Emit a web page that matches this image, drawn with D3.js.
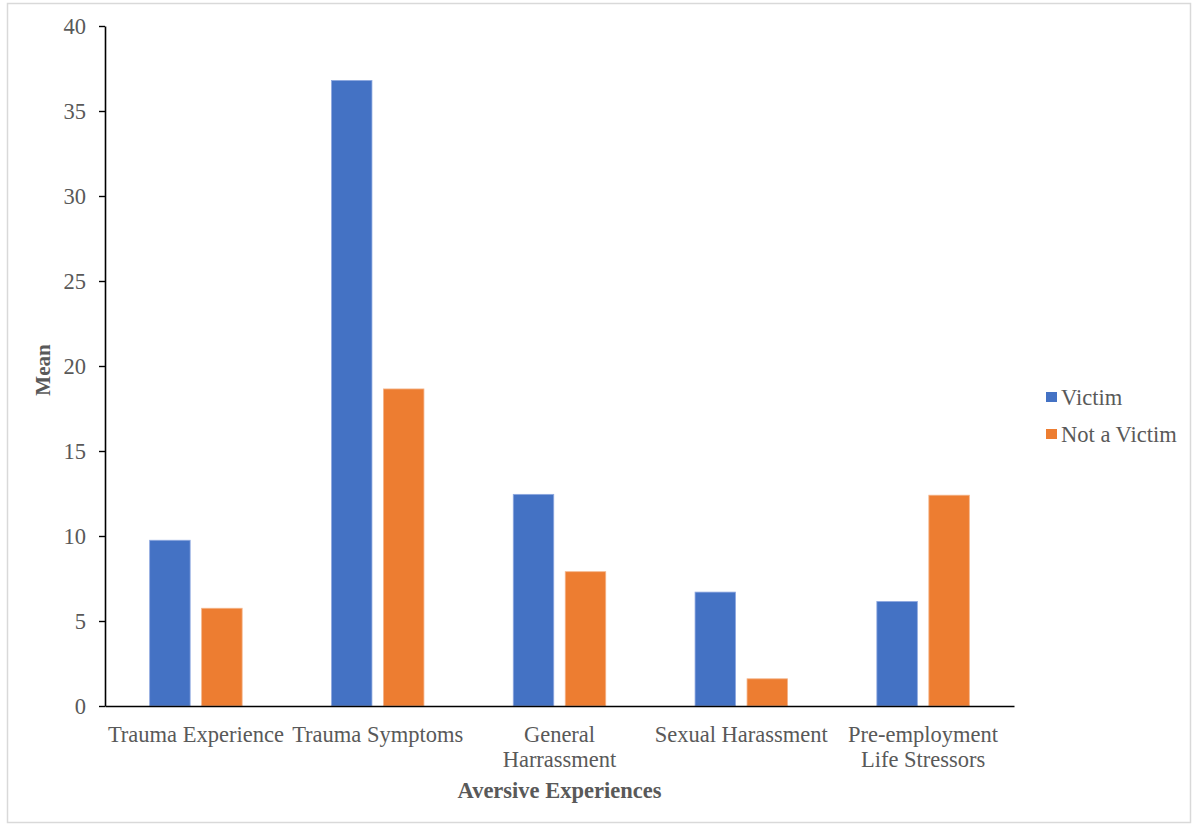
<!DOCTYPE html>
<html>
<head>
<meta charset="utf-8">
<script src="https://cdn.jsdelivr.net/npm/d3@7"></script>
<style>
  html, body { margin: 0; padding: 0; background: #fff; }
  svg { display: block; }
  text { font-family: "Liberation Serif", "Times New Roman", serif; }
</style>
</head>
<body>
<svg id="chart" width="1193" height="825"></svg>
<script>
// Mean scores of aversive experiences by victim status
const categories = [
  ["Trauma Experience"],
  ["Trauma Symptoms"],
  ["General", "Harrassment"],
  ["Sexual Harassment"],
  ["Pre-employment", "Life Stressors"]
];
const seriesNames = ["Victim", "Not a Victim"];
const victim    = [9.75, 36.8, 12.45, 6.7, 6.15];
const notVictim = [5.75, 18.65, 7.9, 1.6, 12.4];
const yTicks = [0, 5, 10, 15, 20, 25, 30, 35, 40];
const colors = ["#4472C4", "#ED7D31"];

const FS = 22.5;
const svg = d3.select("#chart");

// outer frame
svg.append("rect")
  .attr("x", 7.5).attr("y", 3.5)
  .attr("width", 1183).attr("height", 819)
  .attr("fill", "#fff").attr("stroke", "#d9d9d9").attr("stroke-width", 1.5);

const plot = { left: 105, right: 1014, top: 26, bottom: 706 };

const keys = categories.map(c => c.join(" "));
const x0 = d3.scaleBand().domain(keys).range([plot.left, plot.right]).padding(0);
const x1 = d3.scaleBand().domain(seriesNames).range([0, x0.bandwidth()])
  .paddingInner(0.221).paddingOuter(0.859);
const y = d3.scaleLinear().domain([0, 40]).range([plot.bottom, plot.top]);

const rows = keys.map((k, i) => ({ key: k, values: [victim[i], notVictim[i]] }));

// bars
const groups = svg.append("g").selectAll("g").data(rows).join("g")
  .attr("transform", d => `translate(${x0(d.key)},0)`);
groups.selectAll("rect")
  .data(d => d.values.map((v, j) => ({ name: seriesNames[j], value: v, j })))
  .join("rect")
  .attr("x", d => x1(d.name))
  .attr("y", d => y(d.value))
  .attr("width", x1.bandwidth())
  .attr("height", d => y(0) - y(d.value))
  .attr("fill", d => colors[d.j])
  .attr("stroke", d => d.j === 0 ? "#8fa9e0" : "#f4b48a")
  .attr("stroke-width", 0.8);

// y axis
const yAxis = svg.append("g")
  .attr("transform", `translate(${plot.left},0)`)
  .call(d3.axisLeft(y).tickValues(yTicks).tickSize(6).tickSizeOuter(0).tickPadding(13));
yAxis.select(".domain").attr("stroke", "#000").attr("stroke-width", 1.6);
yAxis.selectAll(".tick line").attr("stroke", "#000").attr("stroke-width", 1.4);
yAxis.selectAll(".tick text")
  .attr("fill", "#595959").attr("font-size", FS)
  .style("font-family", "'Liberation Serif', serif");

// x axis baseline
const xAxis = svg.append("g")
  .attr("transform", `translate(0,${plot.bottom})`)
  .call(d3.axisBottom(x0).tickSize(0).tickSizeOuter(0).tickFormat(""));
xAxis.select(".domain").attr("stroke", "#000").attr("stroke-width", 1.6);

// category labels (may wrap onto two lines)
const labelG = svg.append("g");
categories.forEach((lines, i) => {
  const cx = x0(keys[i]) + x0.bandwidth() / 2;
  const t = labelG.append("text")
    .attr("x", cx).attr("y", 742)
    .attr("text-anchor", "middle")
    .attr("fill", "#595959").attr("font-size", FS);
  lines.forEach((ln, k) => {
    t.append("tspan").attr("x", cx).attr("dy", k === 0 ? 0 : 25).text(ln);
  });
});

// axis titles
svg.append("text")
  .attr("x", (plot.left + plot.right) / 2).attr("y", 798)
  .attr("text-anchor", "middle")
  .attr("fill", "#595959").attr("font-size", FS).attr("font-weight", "bold")
  .text("Aversive Experiences");

svg.append("text")
  .attr("transform", "translate(50,370) rotate(-90)")
  .attr("text-anchor", "middle")
  .attr("fill", "#595959").attr("font-size", 21).attr("font-weight", "bold")
  .text("Mean");

// legend
const legend = svg.append("g").selectAll("g").data(seriesNames).join("g")
  .attr("transform", (d, i) => `translate(1046,${392 + i * 37})`);
legend.append("rect")
  .attr("width", 11).attr("height", 10)
  .attr("fill", (d, i) => colors[i]);
legend.append("text")
  .attr("x", 15).attr("y", 12.5)
  .attr("fill", "#595959").attr("font-size", FS)
  .text(d => d);
</script>
</body>
</html>
